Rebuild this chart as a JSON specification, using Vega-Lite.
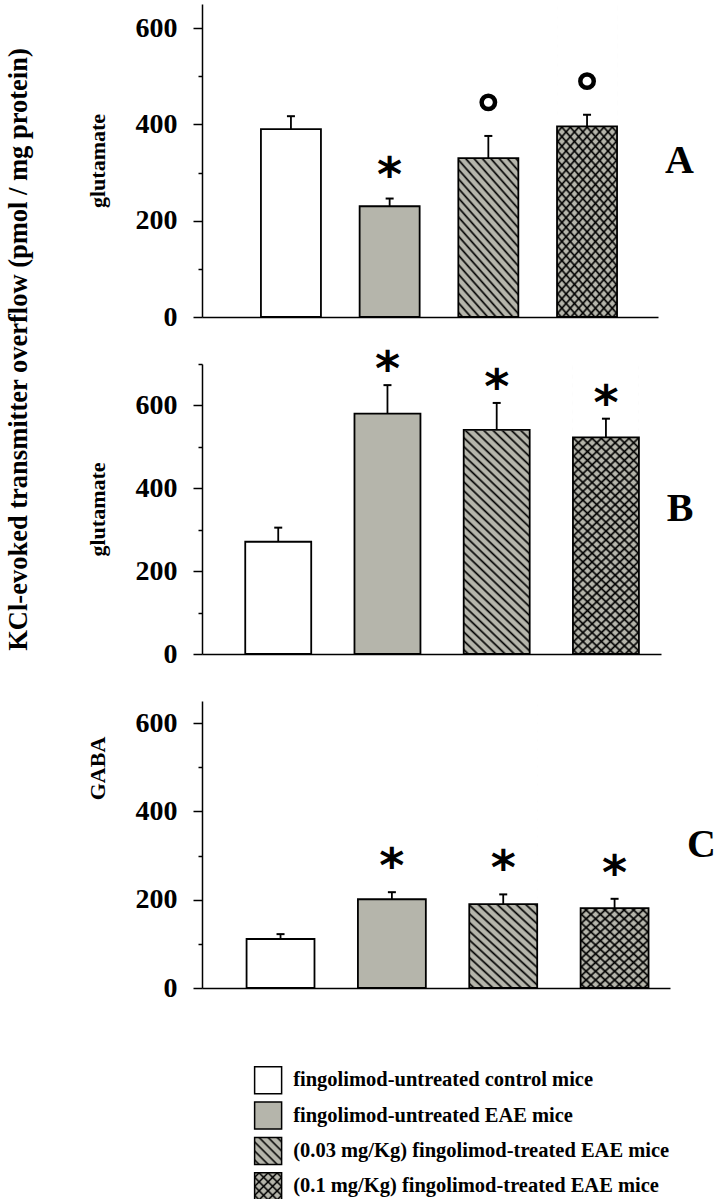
{
"$schema": "https://vega.github.io/schema/vega-lite/v6.json",
"padding": {"left": 5, "top": 3, "right": 5, "bottom": 0},
"background": "white",
"bounds": "flush",
"spacing": 47,
"title": {"text": "KCl-evoked  transmitter overflow (pmol / mg protein)", "orient": "left", "anchor": "end", "offset": 54, "dx": -45, "font": "Liberation Serif", "fontSize": 26.5, "fontWeight": "bold", "color": "black"},
"datasets": {
"bars": [
{"panel":"A","g":"g1","mean":390,"upper":417,"sig":""},
{"panel":"A","g":"g2","mean":230,"upper":246,"sig":"*"},
{"panel":"A","g":"g3","mean":330,"upper":376,"sig":"o"},
{"panel":"A","g":"g4","mean":396,"upper":420,"sig":"o"},
{"panel":"B","g":"g1","mean":271,"upper":305,"sig":""},
{"panel":"B","g":"g2","mean":580,"upper":649,"sig":"*"},
{"panel":"B","g":"g3","mean":541,"upper":606,"sig":"*"},
{"panel":"B","g":"g4","mean":523,"upper":568,"sig":"*"},
{"panel":"C","g":"g1","mean":111,"upper":122,"sig":""},
{"panel":"C","g":"g2","mean":201,"upper":217,"sig":"*"},
{"panel":"C","g":"g3","mean":190,"upper":212,"sig":"*"},
{"panel":"C","g":"g4","mean":181,"upper":202,"sig":"*"}
],
"legend": [
{"g":"g1","label":"fingolimod-untreated control mice"},
{"g":"g2","label":"fingolimod-untreated EAE mice"},
{"g":"g3","label":"(0.03 mg/Kg) fingolimod-treated EAE mice"},
{"g":"g4","label":"(0.1 mg/Kg) fingolimod-treated EAE mice"}
]
},
"vconcat": [
{
"width": 456, "height": 313,
"title": {"text": "A", "orient": "right", "frame": "group", "angle": 0, "anchor": "middle", "align": "left", "baseline": "middle", "offset": -22, "fontSize": 40, "font": "Liberation Serif", "fontWeight": "bold", "color": "black"},
"data": {"name": "bars"},
"transform": [{"filter": "datum.panel === 'A'"}],
"encoding": {"x": {"field": "g", "type": "nominal", "scale": {"paddingInner": 0.392, "paddingOuter": 0.506, "align": 0.59}, "axis": {"title": null, "labels": false, "ticks": false}}},
"layer": [
{"mark": {"type": "bar"}, "encoding": {"y": {"field": "mean", "type": "quantitative", "scale": {"domain": [0, 650], "nice": false}, "axis": {"title": "glutamate", "values": [0,100,200,300,400,500,600], "labelExpr": "datum.value % 200 === 0 ? datum.label : ''", "tickSize": {"condition": {"test": "datum.value % 200 === 0", "value": 9}, "value": 4}, "labelPadding": 16, "titlePadding": 26}}, "fill": {"field": "g", "type": "nominal", "scale": {"domain": ["g1","g2","g3","g4"], "range": ["#ffffff","#b5b5ab","#b5b5ab","#b5b5ab"]}, "legend": null}}},
{"mark": {"type": "bar", "style": "hatchBack"}, "transform": [{"filter": "datum.g === 'g3' || datum.g === 'g4'"}], "encoding": {"y": {"datum": 650, "type": "quantitative"}, "y2": {"datum": 0}}},
{"mark": {"type": "bar", "style": "hatchFwd"}, "transform": [{"filter": "datum.g === 'g4'"}], "encoding": {"y": {"datum": 650, "type": "quantitative"}, "y2": {"datum": 0}}},
{"mark": {"type": "bar", "fill": "white", "stroke": "white", "strokeWidth": 1.5}, "transform": [{"filter": "datum.g === 'g3' || datum.g === 'g4'"}], "encoding": {"y": {"field": "mean", "type": "quantitative"}, "y2": {"datum": 650}}},
{"mark": {"type": "bar", "fillOpacity": 0, "stroke": "black", "strokeWidth": 1.8}, "encoding": {"y": {"field": "mean", "type": "quantitative"}}},
{"mark": {"type": "rule", "color": "black", "strokeWidth": 1.8}, "encoding": {"y": {"field": "mean", "type": "quantitative"}, "y2": {"field": "upper"}}},
{"mark": {"type": "tick", "color": "black", "size": 8, "thickness": 2, "opacity": 1}, "encoding": {"y": {"field": "upper", "type": "quantitative"}}},
{"mark": {"type": "text", "font": "DejaVu Sans", "fontWeight": "bold", "fontSize": 48, "baseline": "alphabetic", "dy": -8, "color": "black"}, "transform": [{"filter": "datum.sig === '*'"}], "encoding": {"y": {"field": "upper", "type": "quantitative"}, "text": {"field": "sig"}}},
{"mark": {"type": "point", "shape": "circle", "filled": false, "stroke": "black", "strokeWidth": 4.5, "size": 180, "yOffset": -33.6, "opacity": 1}, "transform": [{"filter": "datum.sig === 'o'"}], "encoding": {"y": {"field": "upper", "type": "quantitative"}}}
]
},
{
"width": 459, "height": 290,
"title": {"text": "B", "orient": "right", "frame": "group", "angle": 0, "anchor": "middle", "align": "left", "baseline": "middle", "offset": -21, "fontSize": 40, "font": "Liberation Serif", "fontWeight": "bold", "color": "black"},
"data": {"name": "bars"},
"transform": [{"filter": "datum.panel === 'B'"}],
"encoding": {"x": {"field": "g", "type": "nominal", "scale": {"paddingInner": 0.396, "paddingOuter": 0.299, "align": 0.662}, "axis": {"title": null, "labels": false, "ticks": false}}},
"layer": [
{"mark": {"type": "bar"}, "encoding": {"y": {"field": "mean", "type": "quantitative", "scale": {"domain": [0, 700], "nice": false}, "axis": {"title": "glutamate", "values": [0,100,200,300,400,500,600,700], "labelExpr": "datum.value % 200 === 0 ? datum.label : ''", "tickSize": {"condition": {"test": "datum.value % 200 === 0", "value": 9}, "value": 4}, "labelPadding": 16, "titlePadding": 26}}, "fill": {"field": "g", "type": "nominal", "scale": {"domain": ["g1","g2","g3","g4"], "range": ["#ffffff","#b5b5ab","#b5b5ab","#b5b5ab"]}, "legend": null}}},
{"mark": {"type": "bar", "style": "hatchBack"}, "transform": [{"filter": "datum.g === 'g3' || datum.g === 'g4'"}], "encoding": {"y": {"datum": 700, "type": "quantitative"}, "y2": {"datum": 0}}},
{"mark": {"type": "bar", "style": "hatchFwd"}, "transform": [{"filter": "datum.g === 'g4'"}], "encoding": {"y": {"datum": 700, "type": "quantitative"}, "y2": {"datum": 0}}},
{"mark": {"type": "bar", "fill": "white", "stroke": "white", "strokeWidth": 1.5}, "transform": [{"filter": "datum.g === 'g3' || datum.g === 'g4'"}], "encoding": {"y": {"field": "mean", "type": "quantitative"}, "y2": {"datum": 700}}},
{"mark": {"type": "bar", "fillOpacity": 0, "stroke": "black", "strokeWidth": 1.8}, "encoding": {"y": {"field": "mean", "type": "quantitative"}}},
{"mark": {"type": "rule", "color": "black", "strokeWidth": 1.8}, "encoding": {"y": {"field": "mean", "type": "quantitative"}, "y2": {"field": "upper"}}},
{"mark": {"type": "tick", "color": "black", "size": 8, "thickness": 2, "opacity": 1}, "encoding": {"y": {"field": "upper", "type": "quantitative"}}},
{"mark": {"type": "text", "font": "DejaVu Sans", "fontWeight": "bold", "fontSize": 48, "baseline": "alphabetic", "dy": 0, "color": "black"}, "transform": [{"filter": "datum.sig === '*'"}], "encoding": {"y": {"field": "upper", "type": "quantitative"}, "text": {"field": "sig"}}}
]
},
{
"width": 468, "height": 287,
"title": {"text": "C", "orient": "right", "frame": "group", "angle": 0, "anchor": "middle", "align": "left", "baseline": "middle", "offset": -12, "fontSize": 40, "font": "Liberation Serif", "fontWeight": "bold", "color": "black"},
"data": {"name": "bars"},
"transform": [{"filter": "datum.panel === 'C'"}],
"encoding": {"x": {"field": "g", "type": "nominal", "scale": {"paddingInner": 0.39, "paddingOuter": 0.2965, "align": 0.675}, "axis": {"title": null, "labels": false, "ticks": false}}},
"layer": [
{"mark": {"type": "bar"}, "encoding": {"y": {"field": "mean", "type": "quantitative", "scale": {"domain": [0, 650], "nice": false}, "axis": {"title": "GABA", "titleY": 67, "values": [0,100,200,300,400,500,600], "labelExpr": "datum.value % 200 === 0 ? datum.label : ''", "tickSize": {"condition": {"test": "datum.value % 200 === 0", "value": 9}, "value": 4}, "labelPadding": 16, "titlePadding": 26}}, "fill": {"field": "g", "type": "nominal", "scale": {"domain": ["g1","g2","g3","g4"], "range": ["#ffffff","#b5b5ab","#b5b5ab","#b5b5ab"]}, "legend": null}}},
{"mark": {"type": "bar", "style": "hatchBack"}, "transform": [{"filter": "datum.g === 'g3' || datum.g === 'g4'"}], "encoding": {"y": {"datum": 650, "type": "quantitative"}, "y2": {"datum": 0}}},
{"mark": {"type": "bar", "style": "hatchFwd"}, "transform": [{"filter": "datum.g === 'g4'"}], "encoding": {"y": {"datum": 650, "type": "quantitative"}, "y2": {"datum": 0}}},
{"mark": {"type": "bar", "fill": "white", "stroke": "white", "strokeWidth": 1.5}, "transform": [{"filter": "datum.g === 'g3' || datum.g === 'g4'"}], "encoding": {"y": {"field": "mean", "type": "quantitative"}, "y2": {"datum": 650}}},
{"mark": {"type": "bar", "fillOpacity": 0, "stroke": "black", "strokeWidth": 1.8}, "encoding": {"y": {"field": "mean", "type": "quantitative"}}},
{"mark": {"type": "rule", "color": "black", "strokeWidth": 1.8}, "encoding": {"y": {"field": "mean", "type": "quantitative"}, "y2": {"field": "upper"}}},
{"mark": {"type": "tick", "color": "black", "size": 8, "thickness": 2, "opacity": 1}, "encoding": {"y": {"field": "upper", "type": "quantitative"}}},
{"mark": {"type": "text", "font": "DejaVu Sans", "fontWeight": "bold", "fontSize": 48, "baseline": "alphabetic", "dy": -10, "color": "black"}, "transform": [{"filter": "datum.sig === '*'"}], "encoding": {"y": {"field": "upper", "type": "quantitative"}, "text": {"field": "sig"}}}
]
},
{
"width": 456, "height": 169,
"data": {"name": "legend"},
"encoding": {"y": {"field": "g", "type": "nominal", "scale": {"type": "band", "paddingInner": 0, "paddingOuter": 0.39, "align": 1}, "axis": null}},
"layer": [
{"mark": {"type": "square", "size": 729, "stroke": "black", "strokeWidth": 1.5, "opacity": 1}, "encoding": {"x": {"datum": 14.5, "type": "quantitative", "scale": {"domain": [0, 100]}, "axis": null}, "fill": {"field": "g", "type": "nominal", "scale": {"domain": ["g1","g2","g3","g4"], "range": ["#ffffff","#b5b5ab","#b5b5ab","#b5b5ab"]}, "legend": null}}},
{"mark": {"type": "square", "size": 729, "style": "legBack", "opacity": 1}, "transform": [{"filter": "datum.g === 'g3' || datum.g === 'g4'"}], "encoding": {"x": {"datum": 14.5, "type": "quantitative"}}},
{"mark": {"type": "square", "size": 729, "style": "legFwd", "opacity": 1}, "transform": [{"filter": "datum.g === 'g4'"}], "encoding": {"x": {"datum": 14.5, "type": "quantitative"}}},
{"mark": {"type": "text", "align": "left", "baseline": "middle", "font": "Liberation Serif", "fontWeight": "bold", "fontSize": 20.5, "color": "black"}, "encoding": {"x": {"datum": 20, "type": "quantitative"}, "text": {"field": "label"}}}
]
}
],
"resolve": {"scale": {"x": "independent", "y": "independent"}},
"config": {
"view": {"stroke": null},
"font": "Liberation Serif",
"axis": {"labelFont": "Liberation Serif", "labelFontWeight": "bold", "labelFontSize": 28, "labelColor": "black", "titleFont": "Liberation Serif", "titleFontWeight": "bold", "titleFontSize": 22, "titleColor": "black", "domainColor": "black", "domainWidth": 1.5, "tickColor": "black", "tickWidth": 1.5, "grid": false},
"style": {
"hatchBack": {"color": {"gradient": "linear", "x1": 0, "y1": 1, "x2": 0.2533, "y2": -0.1628, "stops": [
{"offset":0.006,"color":"rgba(0,0,0,0)"},{"offset":0.0125,"color":"#000"},{"offset":0.019,"color":"rgba(0,0,0,0)"},
{"offset":0.031,"color":"rgba(0,0,0,0)"},{"offset":0.0375,"color":"#000"},{"offset":0.044,"color":"rgba(0,0,0,0)"},
{"offset":0.056,"color":"rgba(0,0,0,0)"},{"offset":0.0625,"color":"#000"},{"offset":0.069,"color":"rgba(0,0,0,0)"},
{"offset":0.081,"color":"rgba(0,0,0,0)"},{"offset":0.0875,"color":"#000"},{"offset":0.094,"color":"rgba(0,0,0,0)"},
{"offset":0.106,"color":"rgba(0,0,0,0)"},{"offset":0.1125,"color":"#000"},{"offset":0.119,"color":"rgba(0,0,0,0)"},
{"offset":0.131,"color":"rgba(0,0,0,0)"},{"offset":0.1375,"color":"#000"},{"offset":0.144,"color":"rgba(0,0,0,0)"},
{"offset":0.156,"color":"rgba(0,0,0,0)"},{"offset":0.1625,"color":"#000"},{"offset":0.169,"color":"rgba(0,0,0,0)"},
{"offset":0.181,"color":"rgba(0,0,0,0)"},{"offset":0.1875,"color":"#000"},{"offset":0.194,"color":"rgba(0,0,0,0)"},
{"offset":0.206,"color":"rgba(0,0,0,0)"},{"offset":0.2125,"color":"#000"},{"offset":0.219,"color":"rgba(0,0,0,0)"},
{"offset":0.231,"color":"rgba(0,0,0,0)"},{"offset":0.2375,"color":"#000"},{"offset":0.244,"color":"rgba(0,0,0,0)"},
{"offset":0.256,"color":"rgba(0,0,0,0)"},{"offset":0.2625,"color":"#000"},{"offset":0.269,"color":"rgba(0,0,0,0)"},
{"offset":0.281,"color":"rgba(0,0,0,0)"},{"offset":0.2875,"color":"#000"},{"offset":0.294,"color":"rgba(0,0,0,0)"},
{"offset":0.306,"color":"rgba(0,0,0,0)"},{"offset":0.3125,"color":"#000"},{"offset":0.319,"color":"rgba(0,0,0,0)"},
{"offset":0.331,"color":"rgba(0,0,0,0)"},{"offset":0.3375,"color":"#000"},{"offset":0.344,"color":"rgba(0,0,0,0)"},
{"offset":0.356,"color":"rgba(0,0,0,0)"},{"offset":0.3625,"color":"#000"},{"offset":0.369,"color":"rgba(0,0,0,0)"},
{"offset":0.381,"color":"rgba(0,0,0,0)"},{"offset":0.3875,"color":"#000"},{"offset":0.394,"color":"rgba(0,0,0,0)"},
{"offset":0.406,"color":"rgba(0,0,0,0)"},{"offset":0.4125,"color":"#000"},{"offset":0.419,"color":"rgba(0,0,0,0)"},
{"offset":0.431,"color":"rgba(0,0,0,0)"},{"offset":0.4375,"color":"#000"},{"offset":0.444,"color":"rgba(0,0,0,0)"},
{"offset":0.456,"color":"rgba(0,0,0,0)"},{"offset":0.4625,"color":"#000"},{"offset":0.469,"color":"rgba(0,0,0,0)"},
{"offset":0.481,"color":"rgba(0,0,0,0)"},{"offset":0.4875,"color":"#000"},{"offset":0.494,"color":"rgba(0,0,0,0)"},
{"offset":0.506,"color":"rgba(0,0,0,0)"},{"offset":0.5125,"color":"#000"},{"offset":0.519,"color":"rgba(0,0,0,0)"},
{"offset":0.531,"color":"rgba(0,0,0,0)"},{"offset":0.5375,"color":"#000"},{"offset":0.544,"color":"rgba(0,0,0,0)"},
{"offset":0.556,"color":"rgba(0,0,0,0)"},{"offset":0.5625,"color":"#000"},{"offset":0.569,"color":"rgba(0,0,0,0)"},
{"offset":0.581,"color":"rgba(0,0,0,0)"},{"offset":0.5875,"color":"#000"},{"offset":0.594,"color":"rgba(0,0,0,0)"},
{"offset":0.606,"color":"rgba(0,0,0,0)"},{"offset":0.6125,"color":"#000"},{"offset":0.619,"color":"rgba(0,0,0,0)"},
{"offset":0.631,"color":"rgba(0,0,0,0)"},{"offset":0.6375,"color":"#000"},{"offset":0.644,"color":"rgba(0,0,0,0)"},
{"offset":0.656,"color":"rgba(0,0,0,0)"},{"offset":0.6625,"color":"#000"},{"offset":0.669,"color":"rgba(0,0,0,0)"},
{"offset":0.681,"color":"rgba(0,0,0,0)"},{"offset":0.6875,"color":"#000"},{"offset":0.694,"color":"rgba(0,0,0,0)"},
{"offset":0.706,"color":"rgba(0,0,0,0)"},{"offset":0.7125,"color":"#000"},{"offset":0.719,"color":"rgba(0,0,0,0)"},
{"offset":0.731,"color":"rgba(0,0,0,0)"},{"offset":0.7375,"color":"#000"},{"offset":0.744,"color":"rgba(0,0,0,0)"},
{"offset":0.756,"color":"rgba(0,0,0,0)"},{"offset":0.7625,"color":"#000"},{"offset":0.769,"color":"rgba(0,0,0,0)"},
{"offset":0.781,"color":"rgba(0,0,0,0)"},{"offset":0.7875,"color":"#000"},{"offset":0.794,"color":"rgba(0,0,0,0)"},
{"offset":0.806,"color":"rgba(0,0,0,0)"},{"offset":0.8125,"color":"#000"},{"offset":0.819,"color":"rgba(0,0,0,0)"},
{"offset":0.831,"color":"rgba(0,0,0,0)"},{"offset":0.8375,"color":"#000"},{"offset":0.844,"color":"rgba(0,0,0,0)"},
{"offset":0.856,"color":"rgba(0,0,0,0)"},{"offset":0.8625,"color":"#000"},{"offset":0.869,"color":"rgba(0,0,0,0)"},
{"offset":0.881,"color":"rgba(0,0,0,0)"},{"offset":0.8875,"color":"#000"},{"offset":0.894,"color":"rgba(0,0,0,0)"},
{"offset":0.906,"color":"rgba(0,0,0,0)"},{"offset":0.9125,"color":"#000"},{"offset":0.919,"color":"rgba(0,0,0,0)"},
{"offset":0.931,"color":"rgba(0,0,0,0)"},{"offset":0.9375,"color":"#000"},{"offset":0.944,"color":"rgba(0,0,0,0)"},
{"offset":0.956,"color":"rgba(0,0,0,0)"},{"offset":0.9625,"color":"#000"},{"offset":0.969,"color":"rgba(0,0,0,0)"},
{"offset":0.981,"color":"rgba(0,0,0,0)"},{"offset":0.9875,"color":"#000"},{"offset":0.994,"color":"rgba(0,0,0,0)"}
]}},
"hatchFwd": {"color": {"gradient": "linear", "x1": 0, "y1": 0, "x2": 0.2533, "y2": 1.1628, "stops": [
{"offset":0.006,"color":"rgba(0,0,0,0)"},{"offset":0.0125,"color":"#000"},{"offset":0.019,"color":"rgba(0,0,0,0)"},
{"offset":0.031,"color":"rgba(0,0,0,0)"},{"offset":0.0375,"color":"#000"},{"offset":0.044,"color":"rgba(0,0,0,0)"},
{"offset":0.056,"color":"rgba(0,0,0,0)"},{"offset":0.0625,"color":"#000"},{"offset":0.069,"color":"rgba(0,0,0,0)"},
{"offset":0.081,"color":"rgba(0,0,0,0)"},{"offset":0.0875,"color":"#000"},{"offset":0.094,"color":"rgba(0,0,0,0)"},
{"offset":0.106,"color":"rgba(0,0,0,0)"},{"offset":0.1125,"color":"#000"},{"offset":0.119,"color":"rgba(0,0,0,0)"},
{"offset":0.131,"color":"rgba(0,0,0,0)"},{"offset":0.1375,"color":"#000"},{"offset":0.144,"color":"rgba(0,0,0,0)"},
{"offset":0.156,"color":"rgba(0,0,0,0)"},{"offset":0.1625,"color":"#000"},{"offset":0.169,"color":"rgba(0,0,0,0)"},
{"offset":0.181,"color":"rgba(0,0,0,0)"},{"offset":0.1875,"color":"#000"},{"offset":0.194,"color":"rgba(0,0,0,0)"},
{"offset":0.206,"color":"rgba(0,0,0,0)"},{"offset":0.2125,"color":"#000"},{"offset":0.219,"color":"rgba(0,0,0,0)"},
{"offset":0.231,"color":"rgba(0,0,0,0)"},{"offset":0.2375,"color":"#000"},{"offset":0.244,"color":"rgba(0,0,0,0)"},
{"offset":0.256,"color":"rgba(0,0,0,0)"},{"offset":0.2625,"color":"#000"},{"offset":0.269,"color":"rgba(0,0,0,0)"},
{"offset":0.281,"color":"rgba(0,0,0,0)"},{"offset":0.2875,"color":"#000"},{"offset":0.294,"color":"rgba(0,0,0,0)"},
{"offset":0.306,"color":"rgba(0,0,0,0)"},{"offset":0.3125,"color":"#000"},{"offset":0.319,"color":"rgba(0,0,0,0)"},
{"offset":0.331,"color":"rgba(0,0,0,0)"},{"offset":0.3375,"color":"#000"},{"offset":0.344,"color":"rgba(0,0,0,0)"},
{"offset":0.356,"color":"rgba(0,0,0,0)"},{"offset":0.3625,"color":"#000"},{"offset":0.369,"color":"rgba(0,0,0,0)"},
{"offset":0.381,"color":"rgba(0,0,0,0)"},{"offset":0.3875,"color":"#000"},{"offset":0.394,"color":"rgba(0,0,0,0)"},
{"offset":0.406,"color":"rgba(0,0,0,0)"},{"offset":0.4125,"color":"#000"},{"offset":0.419,"color":"rgba(0,0,0,0)"},
{"offset":0.431,"color":"rgba(0,0,0,0)"},{"offset":0.4375,"color":"#000"},{"offset":0.444,"color":"rgba(0,0,0,0)"},
{"offset":0.456,"color":"rgba(0,0,0,0)"},{"offset":0.4625,"color":"#000"},{"offset":0.469,"color":"rgba(0,0,0,0)"},
{"offset":0.481,"color":"rgba(0,0,0,0)"},{"offset":0.4875,"color":"#000"},{"offset":0.494,"color":"rgba(0,0,0,0)"},
{"offset":0.506,"color":"rgba(0,0,0,0)"},{"offset":0.5125,"color":"#000"},{"offset":0.519,"color":"rgba(0,0,0,0)"},
{"offset":0.531,"color":"rgba(0,0,0,0)"},{"offset":0.5375,"color":"#000"},{"offset":0.544,"color":"rgba(0,0,0,0)"},
{"offset":0.556,"color":"rgba(0,0,0,0)"},{"offset":0.5625,"color":"#000"},{"offset":0.569,"color":"rgba(0,0,0,0)"},
{"offset":0.581,"color":"rgba(0,0,0,0)"},{"offset":0.5875,"color":"#000"},{"offset":0.594,"color":"rgba(0,0,0,0)"},
{"offset":0.606,"color":"rgba(0,0,0,0)"},{"offset":0.6125,"color":"#000"},{"offset":0.619,"color":"rgba(0,0,0,0)"},
{"offset":0.631,"color":"rgba(0,0,0,0)"},{"offset":0.6375,"color":"#000"},{"offset":0.644,"color":"rgba(0,0,0,0)"},
{"offset":0.656,"color":"rgba(0,0,0,0)"},{"offset":0.6625,"color":"#000"},{"offset":0.669,"color":"rgba(0,0,0,0)"},
{"offset":0.681,"color":"rgba(0,0,0,0)"},{"offset":0.6875,"color":"#000"},{"offset":0.694,"color":"rgba(0,0,0,0)"},
{"offset":0.706,"color":"rgba(0,0,0,0)"},{"offset":0.7125,"color":"#000"},{"offset":0.719,"color":"rgba(0,0,0,0)"},
{"offset":0.731,"color":"rgba(0,0,0,0)"},{"offset":0.7375,"color":"#000"},{"offset":0.744,"color":"rgba(0,0,0,0)"},
{"offset":0.756,"color":"rgba(0,0,0,0)"},{"offset":0.7625,"color":"#000"},{"offset":0.769,"color":"rgba(0,0,0,0)"},
{"offset":0.781,"color":"rgba(0,0,0,0)"},{"offset":0.7875,"color":"#000"},{"offset":0.794,"color":"rgba(0,0,0,0)"},
{"offset":0.806,"color":"rgba(0,0,0,0)"},{"offset":0.8125,"color":"#000"},{"offset":0.819,"color":"rgba(0,0,0,0)"},
{"offset":0.831,"color":"rgba(0,0,0,0)"},{"offset":0.8375,"color":"#000"},{"offset":0.844,"color":"rgba(0,0,0,0)"},
{"offset":0.856,"color":"rgba(0,0,0,0)"},{"offset":0.8625,"color":"#000"},{"offset":0.869,"color":"rgba(0,0,0,0)"},
{"offset":0.881,"color":"rgba(0,0,0,0)"},{"offset":0.8875,"color":"#000"},{"offset":0.894,"color":"rgba(0,0,0,0)"},
{"offset":0.906,"color":"rgba(0,0,0,0)"},{"offset":0.9125,"color":"#000"},{"offset":0.919,"color":"rgba(0,0,0,0)"},
{"offset":0.931,"color":"rgba(0,0,0,0)"},{"offset":0.9375,"color":"#000"},{"offset":0.944,"color":"rgba(0,0,0,0)"},
{"offset":0.956,"color":"rgba(0,0,0,0)"},{"offset":0.9625,"color":"#000"},{"offset":0.969,"color":"rgba(0,0,0,0)"},
{"offset":0.981,"color":"rgba(0,0,0,0)"},{"offset":0.9875,"color":"#000"},{"offset":0.994,"color":"rgba(0,0,0,0)"}
]}},
"legBack": {"color": {"gradient": "linear", "x1": 0, "y1": 1, "x2": 1, "y2": 0, "stops": [
{"offset":0.043,"color":"rgba(0,0,0,0)"},{"offset":0.083,"color":"#000"},{"offset":0.123,"color":"rgba(0,0,0,0)"},
{"offset":0.21,"color":"rgba(0,0,0,0)"},{"offset":0.25,"color":"#000"},{"offset":0.29,"color":"rgba(0,0,0,0)"},
{"offset":0.377,"color":"rgba(0,0,0,0)"},{"offset":0.417,"color":"#000"},{"offset":0.457,"color":"rgba(0,0,0,0)"},
{"offset":0.543,"color":"rgba(0,0,0,0)"},{"offset":0.583,"color":"#000"},{"offset":0.623,"color":"rgba(0,0,0,0)"},
{"offset":0.71,"color":"rgba(0,0,0,0)"},{"offset":0.75,"color":"#000"},{"offset":0.79,"color":"rgba(0,0,0,0)"},
{"offset":0.877,"color":"rgba(0,0,0,0)"},{"offset":0.917,"color":"#000"},{"offset":0.957,"color":"rgba(0,0,0,0)"}
]}},
"legFwd": {"color": {"gradient": "linear", "x1": 0, "y1": 0, "x2": 1, "y2": 1, "stops": [
{"offset":0.043,"color":"rgba(0,0,0,0)"},{"offset":0.083,"color":"#000"},{"offset":0.123,"color":"rgba(0,0,0,0)"},
{"offset":0.21,"color":"rgba(0,0,0,0)"},{"offset":0.25,"color":"#000"},{"offset":0.29,"color":"rgba(0,0,0,0)"},
{"offset":0.377,"color":"rgba(0,0,0,0)"},{"offset":0.417,"color":"#000"},{"offset":0.457,"color":"rgba(0,0,0,0)"},
{"offset":0.543,"color":"rgba(0,0,0,0)"},{"offset":0.583,"color":"#000"},{"offset":0.623,"color":"rgba(0,0,0,0)"},
{"offset":0.71,"color":"rgba(0,0,0,0)"},{"offset":0.75,"color":"#000"},{"offset":0.79,"color":"rgba(0,0,0,0)"},
{"offset":0.877,"color":"rgba(0,0,0,0)"},{"offset":0.917,"color":"#000"},{"offset":0.957,"color":"rgba(0,0,0,0)"}
]}}
}
}
}
